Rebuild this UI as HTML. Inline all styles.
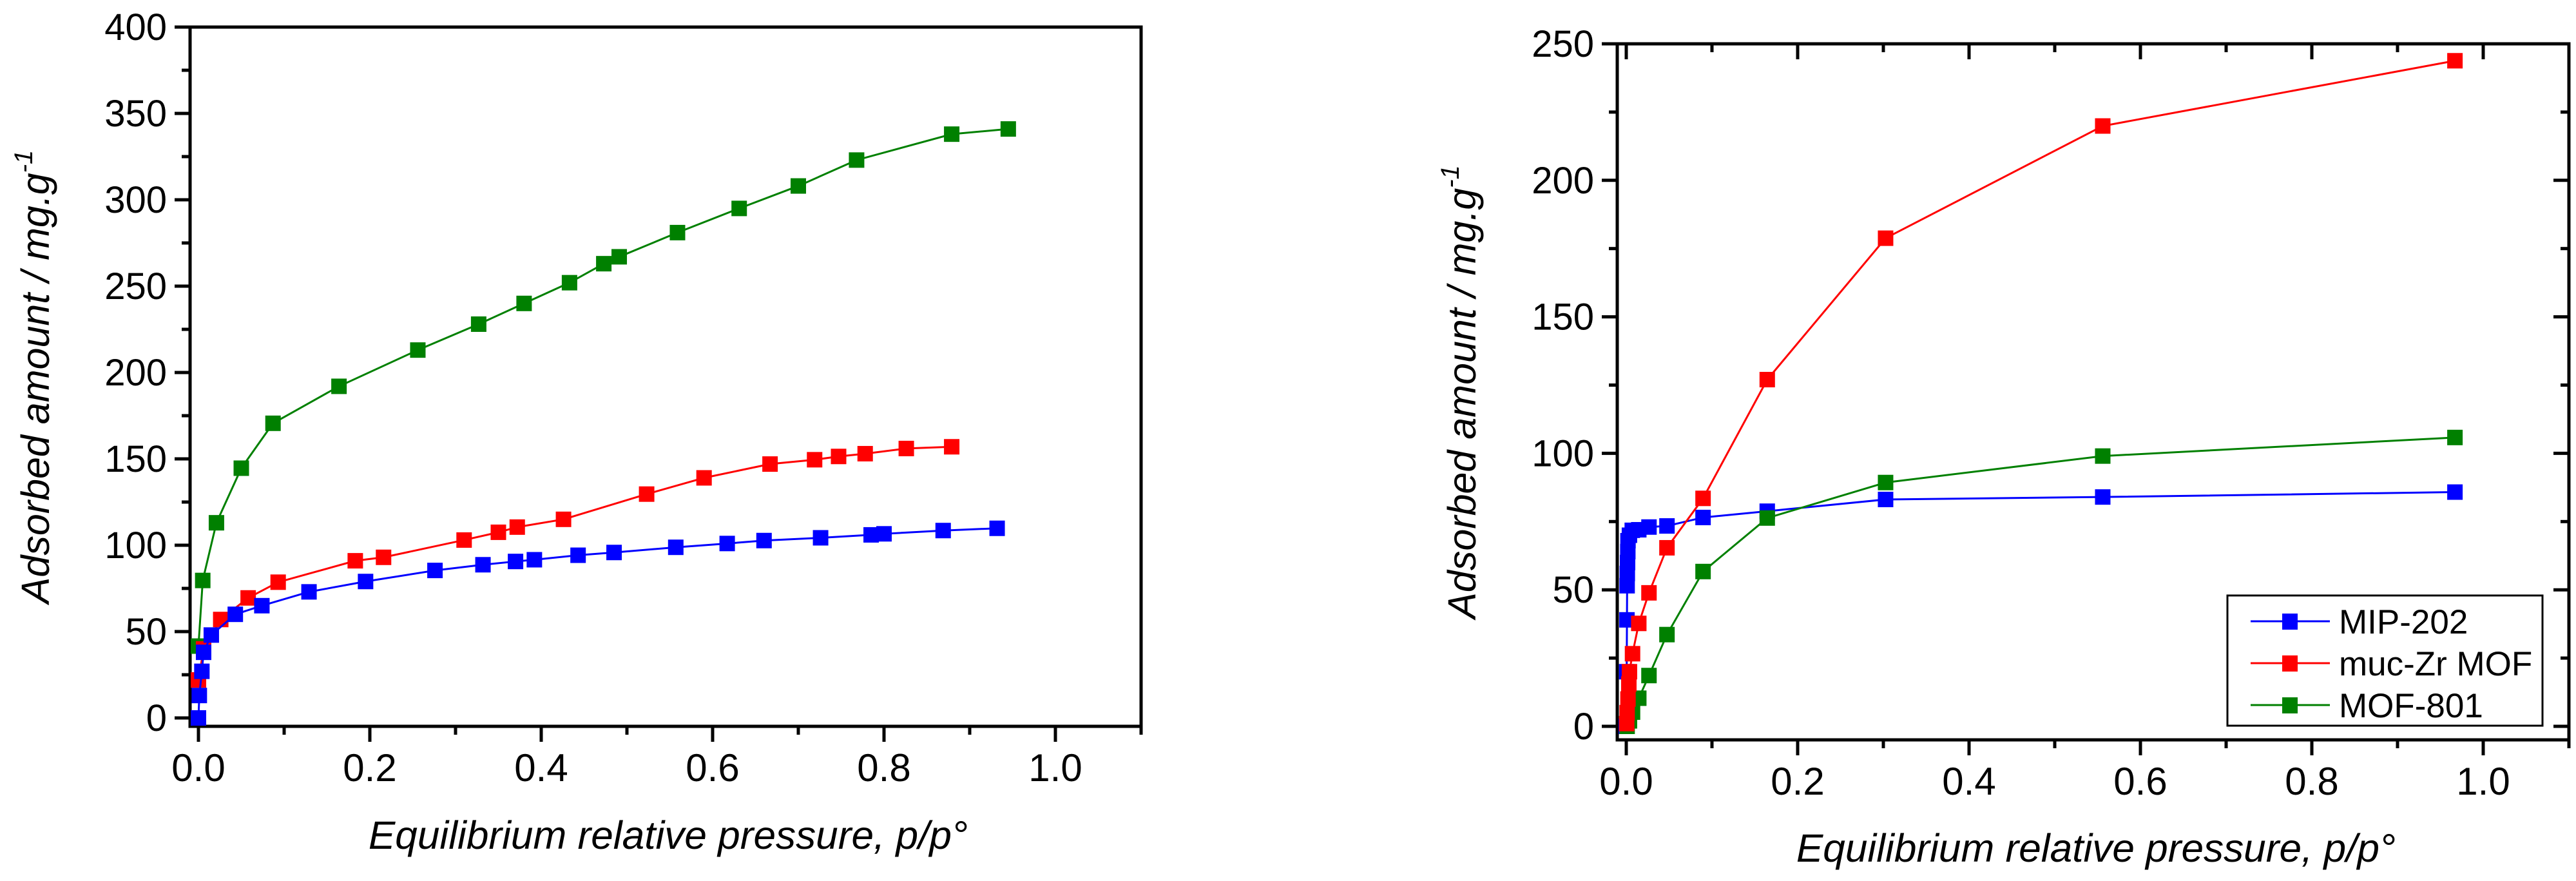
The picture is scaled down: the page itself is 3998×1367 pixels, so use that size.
<!DOCTYPE html>
<html><head><meta charset="utf-8"><style>
html,body{margin:0;padding:0;background:#fff;}
svg{display:block;font-family:"Liberation Sans",Arial,sans-serif;}
</style></head><body>
<svg id="svg" width="3998" height="1367" viewBox="0 0 3998 1367" xmlns="http://www.w3.org/2000/svg"></svg>
<script>
// ---- Left chart data ----
const L_mofX = [0.0,0.005,0.021,0.05,0.087,0.164,0.256,0.327,0.38,0.433,0.473,0.491,0.559,0.631,0.7,0.768,0.879,0.945];
const L_mofY = [41.6,79.6,113,144.6,170.6,192,213,228,240,252,263,267,281,295,308,323,338,341];
const L_mucX = [0.0,0.006,0.026,0.058,0.093,0.183,0.216,0.31,0.35,0.372,0.426,0.523,0.59,0.667,0.719,0.747,0.778,0.826,0.879];
const L_mucY = [22,40,57,69.5,78.6,91,93,103,107.5,110.5,115,129.6,139,147,149.5,151.4,153,156,157];
const L_mipX = [0,0.001,0.004,0.006,0.015,0.043,0.074,0.129,0.195,0.276,0.332,0.37,0.392,0.443,0.485,0.557,0.617,0.66,0.726,0.785,0.8,0.869,0.932];
const L_mipY = [0,13,27,38,48,60,65,73,79,85.4,88.7,90.6,91.6,94.2,95.8,98.8,101,102.7,104.3,106,106.6,108.5,109.8];
// ---- Right chart data ----
const R_mucX = [0.0005,0.001,0.002,0.003,0.0037,0.0073,0.0146,0.0265,0.0475,0.0896,0.1645,0.3026,0.556,0.967];
const R_mucY = [1,5,10,15.5,20,26.6,37.7,48.9,65.4,83.5,127,178.8,219.9,243.8];
const R_mofX = [0.001,0.0037,0.0073,0.0146,0.0265,0.0475,0.0896,0.1645,0.3026,0.556,0.967];
const R_mofY = [0,2,5.2,10.3,18.6,33.6,56.7,76.3,89.3,99,105.8];
const R_mipX = [0.0,0.0005,0.0008,0.001,0.0012,0.0015,0.0018,0.002,0.0037,0.007,0.0146,0.0265,0.0475,0.0896,0.1645,0.3026,0.556,0.967];
const R_mipY = [0,20,39,51.5,56,60,64,68,70,71.8,72,73,73.4,76.5,78.8,83.1,84,85.8];
const xTicks = ["0.0","0.2","0.4","0.6","0.8","1.0"];
const L_yTicks = ["0","50","100","150","200","250","300","350","400"];
const R_yTicks = ["0","50","100","150","200","250"];
const legendNames = ["MIP-202","muc-Zr MOF","MOF-801"];

const NS="http://www.w3.org/2000/svg";
const svg=document.getElementById('svg');
function mk(tag,attrs,parent){const e=document.createElementNS(NS,tag);for(const k in attrs)e.setAttribute(k,attrs[k]);(parent||svg).appendChild(e);return e;}

function chart(cfg){
  const g=mk('g',{});
  
  
  const sx=v=>cfg.x0+v*cfg.xs, sy=v=>cfg.y0-v*cfg.ys;
  const left=cfg.frameL, right=sx(1.1), top=sy(cfg.ymax), bot=cfg.frameB;
  // frame
  const fr=mk('rect',{x:left,y:top,width:right-left,height:bot-top,fill:'none',stroke:'#000','stroke-width':5},g);
  
  
  // x ticks
  for(let i=0;i<=11;i++){
    const v=i/10, x=sx(v), major=i%2==0;
    const t=mk('line',{x1:x,x2:x,y1:bot,y2:bot+(major?24:13),stroke:'#000','stroke-width':5},g);
    
    
    if(cfg.inner){mk('line',{x1:x,x2:x,y1:top,y2:top+(major?24:13),stroke:'#000','stroke-width':5},g);}
  }
  xTicks.forEach(s=>{
    const t=mk('text',{x:sx(parseFloat(s)),y:cfg.xlabY,'font-size':60,'text-anchor':'middle'},g);
    t.textContent=s;
    
    
  });
  // y ticks
  for(let v=0;v<=cfg.ymax;v+=25){
    const y=sy(v), major=v%50==0;
    const t=mk('line',{x1:left-(major?24:13),x2:left,y1:y,y2:y,stroke:'#000','stroke-width':5},g);
    
    
    if(cfg.inner){mk('line',{x1:right-(major?24:13),x2:right,y1:y,y2:y,stroke:'#000','stroke-width':5},g);}
  }
  cfg.yTicks.forEach(s=>{
    const t=mk('text',{x:left-36,y:sy(parseFloat(s))+20,'font-size':58,'text-anchor':'end'},g);
    t.textContent=s;
    
    
  });
  // titles
  const xt=mk('text',{x:sx(0.548),y:cfg.xtitleY,'font-size':61,'font-style':'italic','text-anchor':'middle',textLength:930,lengthAdjust:'spacingAndGlyphs'},g);
  xt.textContent='Equilibrium relative pressure, p/p°';
  
  
  const cy=(top+bot)/2;
  const yt=mk('text',{x:0,y:0,'font-size':61,'font-style':'italic','text-anchor':'middle',transform:`translate(${cfg.ytitleX},${cy}) rotate(-90)`},g);
  
  
  yt.appendChild(document.createTextNode('Adsorbed amount / mg.g'));
  const sup=mk('tspan',{dy:-26,'font-size':40},yt);sup.textContent='-1';
  // series
  cfg.series.forEach(s=>{
    const sg=mk('g',{},g);
    
    
    const pts=s.x.map((v,i)=>sx(v)+','+sy(s.y[i])).join(' ');
    mk('polyline',{points:pts,fill:'none',stroke:s.c,'stroke-width':3},sg);
    s.x.forEach((v,i)=>{
      const m=mk('rect',{x:sx(v)-12,y:sy(s.y[i])-12,width:24,height:24,fill:s.c},sg);
      
      
    });
  });
}

chart({name:'left-chart',x0:308,xs:1330,y0:1114,ys:1072/400,ymax:400,frameL:295,frameB:1127,
  xlabY:1212,xtitleY:1317,ytitleX:76,yTicks:L_yTicks,inner:false,
  series:[{name:'series-mof-801',x:L_mofX,y:L_mofY,c:'#008000'},
          {name:'series-muc-zr-mof',x:L_mucX,y:L_mucY,c:'#ff0000'},
          {name:'series-mip-202',x:L_mipX,y:L_mipY,c:'#0000ff'}]});
chart({name:'right-chart',x0:2524,xs:1330,y0:1127,ys:1059/250,ymax:250,frameL:2510,frameB:1148,
  xlabY:1233,xtitleY:1337,ytitleX:2290,yTicks:R_yTicks,inner:true,
  series:[{name:'series-mip-202',x:R_mipX,y:R_mipY,c:'#0000ff'},
          {name:'series-mof-801',x:R_mofX,y:R_mofY,c:'#008000'},
          {name:'series-muc-zr-mof',x:R_mucX,y:R_mucY,c:'#ff0000'}]});

// legend
const lg=mk('g',{});


mk('rect',{x:3457,y:924,width:489,height:202,fill:'#fff',stroke:'#000','stroke-width':3},lg);
const lc=['#0000ff','#ff0000','#008000'];
legendNames.forEach((n,i)=>{
  const y=[964,1029,1094][i];
  const e=mk('g',{},lg);
  
  
  mk('line',{x1:3493,x2:3616,y1:y,y2:y,stroke:lc[i],'stroke-width':3},e);
  mk('rect',{x:3542,y:y-12,width:24,height:25,fill:lc[i]},e);
  const t=mk('text',{x:3630,y:y+19,'font-size':53},e);t.textContent=n;
});
</script>
</body></html>
